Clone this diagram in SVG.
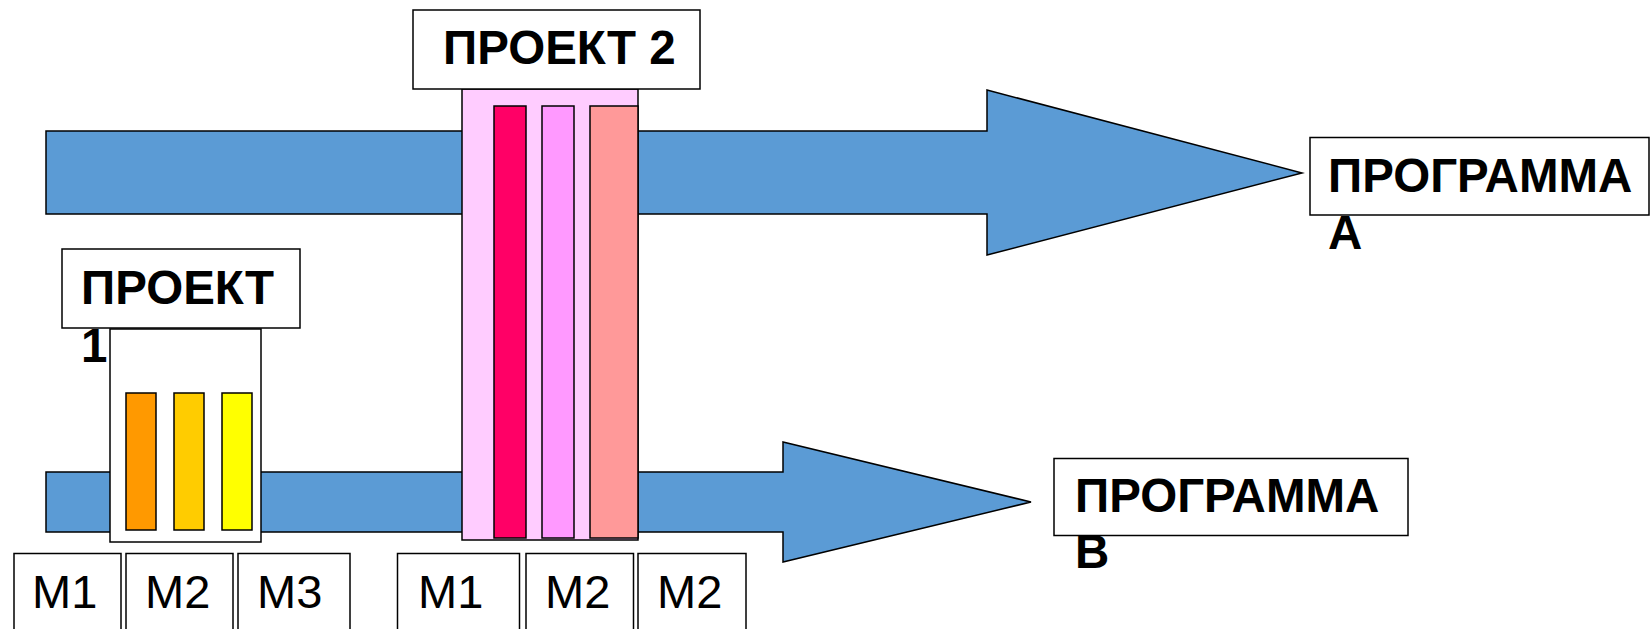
<svg xmlns="http://www.w3.org/2000/svg" width="1650" height="629" viewBox="0 0 1650 629">
<style>
.arrow{fill:#5B9BD5;stroke:#000;stroke-width:1.5;stroke-linejoin:miter}
.box{fill:#fff;stroke:#000;stroke-width:1.5}
.bar{stroke:#000;stroke-width:1.5}
.lbl{font-family:"Liberation Sans",Arial,sans-serif;font-weight:bold;font-size:47.5px;fill:#000}
.m{font-family:"Liberation Sans",Arial,sans-serif;font-size:47px;fill:#000}
</style>
<rect width="1650" height="629" fill="#fff"/>
<g id="connectors">
  <polygon id="arrow-a" class="arrow" points="46,131 987,131 987,90 1302,173 987,255 987,214 46,214"/>
  <polygon id="arrow-b" class="arrow" points="46,472 783,472 783,442 1031,502 783,562 783,532 46,532"/>
</g>
<g id="project1">
  <rect class="box" x="110" y="329" width="151" height="213"/>
  <rect class="bar" x="126" y="393" width="30" height="137" fill="#FF9900"/>
  <rect class="bar" x="174" y="393" width="30" height="137" fill="#FFCC00"/>
  <rect class="bar" x="222" y="393" width="30" height="137" fill="#FFFF00"/>
</g>
<g id="project1-label">
  <rect class="box" x="62" y="249" width="238" height="79"/>
  <text class="lbl" x="81" y="304">ПРОЕКТ</text>
  <text class="lbl" x="81" y="362">1</text>
</g>
<g id="project2">
  <rect class="bar" x="462" y="89" width="176" height="451" fill="#FFCCFF"/>
  <rect class="bar" x="494" y="106" width="32" height="432" fill="#FF0066"/>
  <rect class="bar" x="542" y="106" width="32" height="432" fill="#FF99FF"/>
  <rect class="bar" x="590" y="106" width="48" height="432" fill="#FF9999"/>
</g>
<g id="project2-label">
  <rect class="box" x="413" y="10" width="287" height="79"/>
  <text class="lbl" x="443" y="64">ПРОЕКТ 2</text>
</g>
<g id="program-a">
  <rect class="box" x="1310" y="137.5" width="339" height="77.5"/>
  <text class="lbl" x="1328" y="192">ПРОГРАММА</text>
  <text class="lbl" x="1328" y="249">А</text>
</g>
<g id="program-b">
  <rect class="box" x="1054" y="458.5" width="354" height="77"/>
  <text class="lbl" x="1075" y="512">ПРОГРАММА</text>
  <text class="lbl" x="1075" y="568">В</text>
</g>
<g id="m-boxes-1">
  <rect class="box" x="14" y="553.5" width="107" height="90"/>
  <text class="m" x="32" y="608">M1</text>
  <rect class="box" x="126" y="553.5" width="107" height="90"/>
  <text class="m" x="145" y="608">M2</text>
  <rect class="box" x="238" y="553.5" width="112" height="90"/>
  <text class="m" x="257" y="608">M3</text>
</g>
<g id="m-boxes-2">
  <rect class="box" x="397.5" y="553.5" width="122" height="90"/>
  <text class="m" x="418" y="608">M1</text>
  <rect class="box" x="526" y="553.5" width="107.5" height="90"/>
  <text class="m" x="545" y="608">M2</text>
  <rect class="box" x="638" y="553.5" width="108" height="90"/>
  <text class="m" x="657" y="608">M2</text>
</g>
</svg>
